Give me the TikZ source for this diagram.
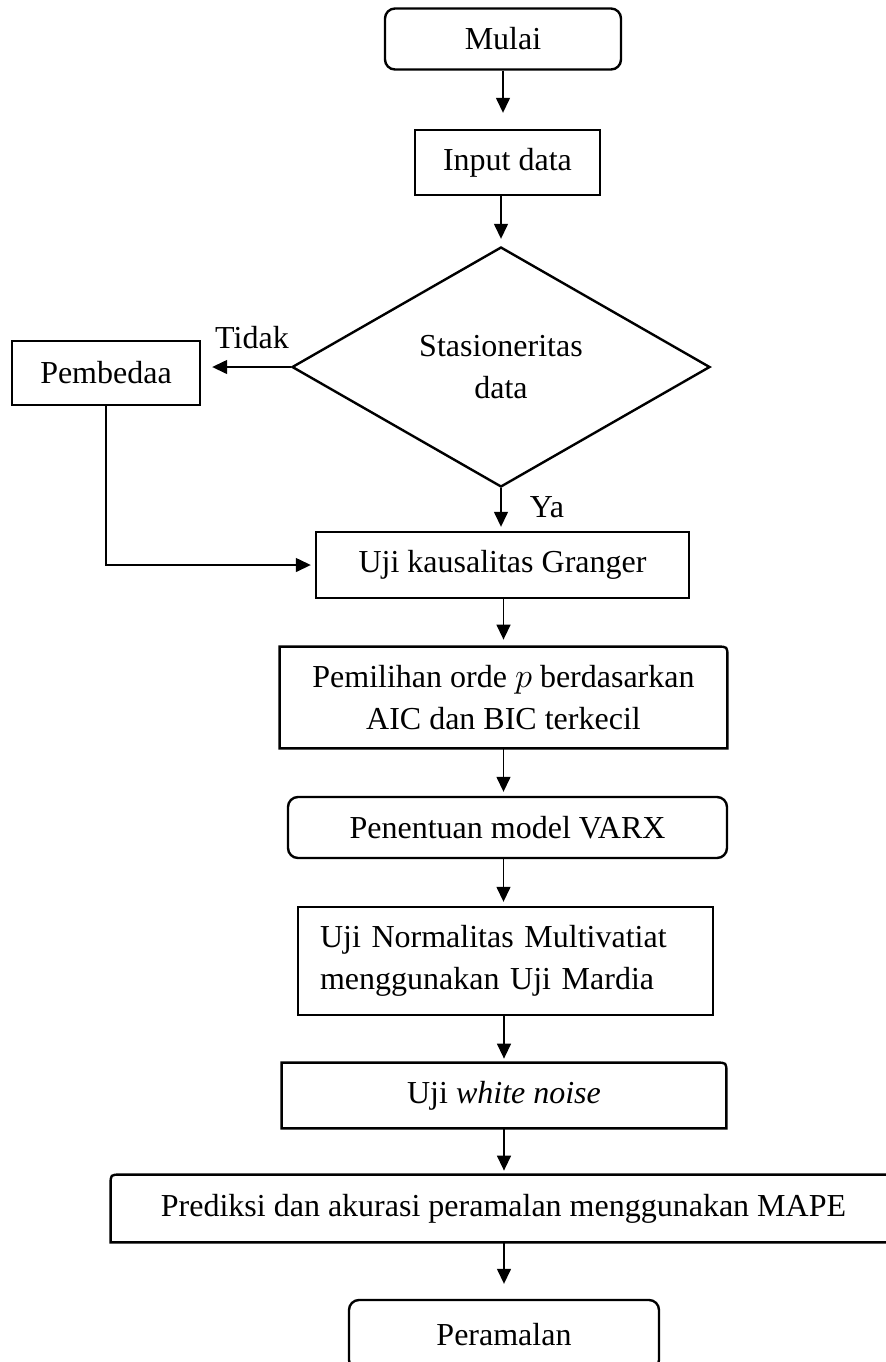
\documentclass[tikz,border=0pt]{standalone}
\usepackage{fontspec}
\setmainfont{Liberation Serif}
\usetikzlibrary{arrows.meta,shapes.geometric}

\begin{document}
\begin{tikzpicture}[x=0.5pt, y=-0.5pt,
  every node/.style={font=\fontsize{16pt}{21pt}\selectfont, inner sep=0pt},
  box/.style={draw=black, line width=1.2pt, shape=rectangle},
  roundbox/.style={box, rounded corners=5pt},
  bare/.style={shape=rectangle},
  edgeline/.style={line width=1.2pt, draw=black},
  flow/.style={-{Triangle[length=7.5pt, width=7pt]}, line width=0.7pt, draw=black, shorten >=2pt}]
\useasboundingbox (0,0) rectangle (885,1362);
\node[roundbox, minimum width=118pt, minimum height=30.5pt] (mulai) at (503, 39) {Mulai};
\node[box, minimum width=92.5pt, minimum height=32.5pt] (input) at (507.5, 162.5) {Input data};
\node[box, shape=diamond, minimum width=209pt, minimum height=120pt, align=center] (stas) at (501, 367) {Stasioneritas\\data};
\node[box, minimum width=94pt, minimum height=32pt] (beda) at (106, 373) {Pembedaa};
\node (tidak) at (252, 338) {Tidak};
\node (ya) at (547, 507) {Ya};
\node[box, minimum width=186.5pt, minimum height=33pt] (granger) at (502.5, 565) {Uji kausalitas Granger};
\node[bare, minimum width=223.5pt, minimum height=50.5pt, align=center] (pilih) at (503.5, 697.5) {Pemilihan orde $p$ berdasarkan\\AIC dan BIC terkecil};
\node[roundbox, minimum width=219.5pt, minimum height=30.5pt] (varx) at (507.5, 827.5) {Penentuan model VARX};
\node[box, minimum width=207.5pt, minimum height=54pt, text width=185.5pt, inner xsep=11pt, align=left] (normal) at (505.5, 961) {Uji Normalitas Multivatiat\\menggunakan Uji Mardia};
\node[bare, minimum width=222pt, minimum height=32.5pt] (noise) at (504, 1095.5) {Uji \textit{white noise}};
\node[bare, minimum width=392.5pt, minimum height=33.5pt] (prediksi) at (503.5, 1208.5) {Prediksi dan akurasi peramalan menggunakan MAPE};
\node[roundbox, minimum width=155pt, minimum height=35pt] (ramal) at (504, 1335) {Peramalan};
\draw[edgeline] (pilih.south west) -- (pilih.north west) -- ([xshift=-5pt]pilih.north east) .. controls (pilih.north east) .. ([yshift=-5pt]pilih.north east) -- (pilih.south east) -- cycle;
\draw[edgeline] (noise.south west) -- (noise.north west) -- ([xshift=-5pt]noise.north east) .. controls (noise.north east) .. ([yshift=-5pt]noise.north east) -- (noise.south east) -- cycle;
\draw[edgeline] (prediksi.south east) -- (prediksi.south west) -- ([yshift=-5pt]prediksi.north west) .. controls (prediksi.north west) .. ([xshift=5pt]prediksi.north west) -- (prediksi.north east) -- cycle;
\draw[flow, shorten >=8pt] (mulai.south) -- (mulai.south |- input.north);
\draw[flow, shorten >=3.5pt] (stas.north |- input.south) -- (stas.north);
\draw[flow, shorten >=5.5pt] (stas.west) -- (stas.west -| beda.east);
\draw[flow] (stas.south) -- (stas.south |- granger.north);
\draw[flow] (beda.south) |- (granger.west);
\draw[flow, shorten >=3.5pt] (pilih.north |- granger.south) -- (pilih.north);
\draw[flow] (pilih.south) -- (pilih.south |- varx.north);
\draw[flow] (pilih.south |- varx.south) -- (pilih.south |- normal.north);
\draw[flow] (noise.north |- normal.south) -- (noise.north);
\draw[flow] (noise.south) -- (noise.south |- prediksi.north);
\draw[flow, shorten >=7.5pt] (ramal.north |- prediksi.south) -- (ramal.north);
\end{tikzpicture}
\end{document}
